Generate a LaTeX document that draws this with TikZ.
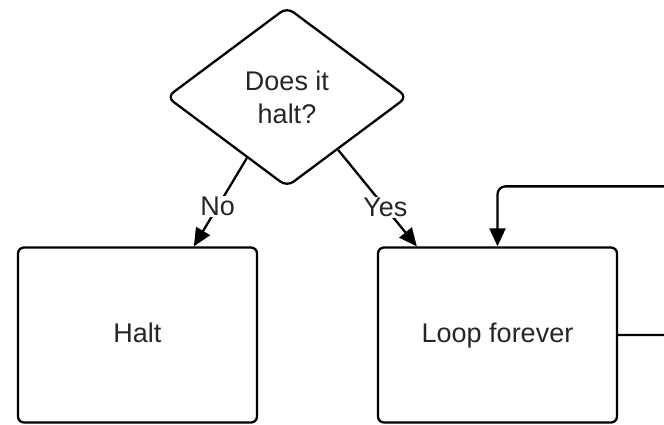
\documentclass[tikz,border=0pt]{standalone}
\usepackage{fontspec}
\setmainfont{Liberation Sans}
\usetikzlibrary{shapes.geometric,arrows.meta,calc}
\begin{document}
\begin{tikzpicture}[x=1pt,y=-1pt,
 every node/.style={font=\fontsize{27}{33}\selectfont, text=black!85},
 box/.style={draw, line width=2.3pt, rounded corners=6pt, minimum width=239pt, minimum height=175pt, inner sep=0pt, text height=19pt, text depth=5pt},
 dec/.style={draw, diamond, line width=2.3pt, rounded corners=8pt, minimum width=241pt, minimum height=180pt, inner sep=0pt, aspect=1.34, align=center},
 flow/.style={line width=2.3pt, -{Triangle[length=18pt,width=16pt]}},
 lab/.style={fill=white, inner sep=1pt}]
\useasboundingbox (0,0) rectangle (664,424);
\clip (0,0) rectangle (664,424);
\node[dec] (d) at (287,97) {Does it\\halt?};
\node[box] (halt) at (137.5,335) {Halt};
\node[box] (loop) at (497.5,335) {Loop forever};
\draw[flow] ($(d.west)!0.67!(d.south)$) -- ([xshift=177pt]halt.north west)
  node[lab, pos=0.55] (no) {No};
\draw[flow] ($(d.south)!0.42!(d.east)$) -- ([xshift=40pt]loop.north west)
  node[lab, pos=0.6] (yes) {Yes};
\draw[flow, rounded corners=8pt] (loop.east) -- ++(80,0) |- ([yshift=60pt]loop.north) -- (loop.north);
\end{tikzpicture}
\end{document}
